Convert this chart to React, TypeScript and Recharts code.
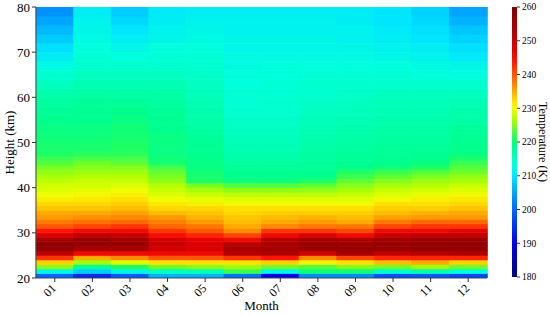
import React from "react";
import { BarChart, Bar, Cell, XAxis, YAxis, Label } from "recharts";

// months along x
const months = ["01", "02", "03", "04", "05", "06", "07", "08", "09", "10", "11", "12"];

// layer edges in km: 1 km layers up to 48 km, 2 km layers above
const layerEdges = [
  20, 21, 22, 23, 24, 25, 26, 27, 28, 29, 30, 31, 32, 33, 34, 35, 36, 37, 38, 39, 40, 41, 42, 43, 44, 45, 46, 47,
  48, 50, 52, 54, 56, 58, 60, 62, 64, 66, 68, 70, 72, 74, 76, 78, 80,
];

// temperature (K) per layer, lowest layer first
const temp01 = [200, 212, 225, 233, 242, 251, 257, 258, 254, 248, 244, 240, 238, 236, 235, 233.5, 232.5, 231, 230, 229, 228.5, 227.5, 226.5, 225.5, 224.5, 223, 222, 221, 220.5, 220, 219.5, 219, 218, 217.5, 216.5, 215, 214, 212.5, 211, 209.5, 208, 206.5, 205, 203.5];
const temp02 = [194, 208, 218, 226, 235, 246, 254, 257, 256, 251, 246, 241, 238.5, 236.5, 235, 233.5, 232.5, 231.5, 230.5, 229.5, 228.5, 228, 227, 226, 225, 224, 222.5, 221.5, 220.5, 220, 219.5, 219, 218.5, 218, 217, 216, 215, 214, 213.5, 213, 212.5, 212, 211.5, 211];
const temp03 = [199, 212, 221, 229, 237, 246, 254, 256, 255, 250, 246, 242, 239, 237, 235.5, 234, 233, 232, 231, 230, 229, 228, 227, 226, 225, 223.5, 222.5, 221.5, 221, 220.5, 220, 219.5, 219, 218, 217, 216, 215, 214, 213, 212, 211, 210, 209, 208];
const temp04 = [206, 215, 224, 232, 240, 246, 249, 250, 249, 245, 242, 239, 237.5, 236, 234, 232.5, 231.5, 230, 229, 228, 227, 225.5, 224.5, 223.5, 222.5, 220.5, 220, 219.5, 219.5, 219.5, 219, 218.5, 218, 217.5, 217, 216, 215, 214, 213.5, 213, 212, 211.5, 211, 210.5];
const temp05 = [206, 216, 225, 232, 240, 246, 248, 248.5, 247, 243, 240, 238, 236, 234.5, 233.5, 232.5, 231, 229.5, 228, 226.5, 224.5, 221, 220.5, 220, 219.5, 219.5, 219, 219, 218.5, 218, 217.5, 217, 216.5, 216, 215.5, 215, 214.5, 214, 213.5, 213, 212.5, 212, 211.5, 211];
const temp06 = [201, 222, 226, 232, 242, 252, 254, 252, 246, 241, 237, 235, 234, 233.5, 232.5, 232, 230.5, 229, 227.5, 225.5, 223, 220, 219, 218.5, 218, 217.5, 217, 216.5, 216, 215.5, 215, 214.5, 214, 213.5, 213.5, 213, 213, 212.5, 212.5, 212, 212, 211.5, 211.5, 211];
const temp07 = [190, 212, 224, 233, 244, 253, 254, 254, 252, 246, 242, 237, 235, 234, 233, 232, 230.5, 229, 227.5, 225.5, 223, 220, 219, 218.5, 218, 217.5, 217, 216.5, 216, 215.5, 215, 214.5, 214, 214, 213.5, 213.5, 213, 213, 212.5, 212, 212, 211.5, 211.5, 211];
const temp08 = [203, 220, 223, 231, 237, 249, 256, 256, 254, 248, 242, 238, 236, 234.5, 233, 232, 230.5, 229, 227.5, 225.5, 223.5, 221, 219, 218.5, 218, 218, 217.5, 217.5, 217, 216.5, 216, 215.5, 215, 214.5, 214, 214, 213.5, 213, 212.5, 212, 212, 211.5, 211.5, 211];
const temp09 = [203, 220, 225, 232, 241, 254, 256, 256, 253, 246, 241, 238, 235, 234, 233, 232, 230.5, 229, 228, 226.5, 225, 223.5, 222, 221, 219, 218.5, 218, 218, 217.5, 217, 216.5, 216, 215.5, 215, 214.5, 214, 213.5, 213, 212.5, 212, 211.5, 211.5, 211, 211];
const temp10 = [198, 214, 224, 234, 243, 251, 256, 256, 255, 250, 246, 241, 238, 235.5, 234, 233, 232, 230.5, 229, 228, 226.5, 225, 223.5, 222, 220, 219, 218.5, 218, 218, 217.5, 217, 216.5, 216, 215.5, 215, 214, 213.5, 213, 212, 211.5, 211, 210.5, 210, 210];
const temp11 = [199, 216, 226, 235, 243, 252, 257, 257, 256, 251, 246, 242, 239, 236, 234.5, 233, 232, 231, 229.5, 228.5, 227, 226, 224.5, 223, 221, 219.5, 219, 218.5, 218, 217.5, 217, 216.5, 216, 215.5, 215, 214, 213, 212.5, 211.5, 211, 210, 209.5, 209, 208.5];
const temp12 = [197, 213, 224, 233, 243, 253, 257, 257, 256, 251, 247, 242, 239, 236, 235, 233.5, 232.5, 231.5, 230.5, 229, 228, 226.5, 225.5, 224, 223, 222, 220.5, 219.5, 219, 218.5, 218, 217, 216.5, 216, 215, 214, 213, 212, 210.5, 209.5, 208.5, 207.5, 206, 205];

const tempByMonth = [temp01, temp02, temp03, temp04, temp05, temp06, temp07, temp08, temp09, temp10, temp11, temp12];

const heightTicks = [20, 30, 40, 50, 60, 70, 80];
const tempTicks = [180, 190, 200, 210, 220, 230, 240, 250, 260];
const tempRange = [180, 260];

// colour scale anchors (K -> rgb)
const colorStops: [number, number[]][] = [
  [180, [0, 0, 128]],
  [190, [0, 0, 235]],
  [200, [0, 100, 255]],
  [205, [0, 165, 255]],
  [210, [0, 230, 255]],
  [213, [0, 255, 220]],
  [216, [0, 255, 180]],
  [219, [0, 255, 140]],
  [221, [30, 255, 100]],
  [224, [110, 255, 40]],
  [227, [180, 255, 0]],
  [230, [240, 255, 0]],
  [232, [255, 225, 0]],
  [235, [255, 170, 0]],
  [238, [255, 120, 0]],
  [241, [255, 70, 0]],
  [244, [255, 20, 0]],
  [248, [220, 0, 0]],
  [253, [175, 0, 0]],
  [260, [128, 0, 0]],
];

const tempColor = (t: number) => {
  if (t <= colorStops[0][0]) return `rgb(${colorStops[0][1].join(",")})`;
  for (let i = 1; i < colorStops.length; i++) {
    const [t1, c1] = colorStops[i];
    if (t <= t1) {
      const [t0, c0] = colorStops[i - 1];
      const f = (t - t0) / (t1 - t0);
      const c = c0.map((v, j) => Math.round(v + (c1[j] - v) * f));
      return `rgb(${c.join(",")})`;
    }
  }
  return `rgb(${colorStops[colorStops.length - 1][1].join(",")})`;
};

const layerKeys = layerEdges.slice(1).map((_, k) => `l${k}`);

const data = months.map((m) => {
  const row: Record<string, any> = { month: m, base: layerEdges[0] };
  layerKeys.forEach((key, k) => {
    row[key] = layerEdges[k + 1] - layerEdges[k];
  });
  return row;
});

const colorbarData = [{ name: "cb", range: tempRange }];

const FONT = "Liberation Serif, Times New Roman, serif";

const MonthTick = (props: any) => {
  const { x, y, payload } = props;
  const ax = x + 2;
  const ay = y + 5;
  return (
    <text
      x={ax}
      y={ay}
      transform={`rotate(-45 ${ax} ${ay})`}
      textAnchor="end"
      fontSize={12}
      fontFamily={FONT}
      fill="#000"
    >
      {payload.value}
    </text>
  );
};

export default function App() {
  return (
    <div style={{ position: "absolute", left: 0, top: 0, width: 550, height: 315, background: "#fff" }}>
      <div style={{ position: "absolute", left: 0, top: 0 }}>
        <BarChart
          width={550}
          height={315}
          data={data}
          margin={{ top: 7, right: 63, bottom: 0, left: 0 }}
          barCategoryGap={0}
          barGap={0}
        >
          <XAxis
            dataKey="month"
            height={37}
            interval={0}
            tickSize={4}
            tick={<MonthTick />}
            axisLine={{ stroke: "#444" }}
            tickLine={{ stroke: "#333" }}
          >
            <Label
              value="Month"
              position="insideBottom"
              offset={5}
              style={{ fontSize: 13, fontFamily: FONT, fill: "#000" }}
            />
          </XAxis>
          <XAxis xAxisId="top" dataKey="month" orientation="top" height={0} tick={false} tickLine={false} axisLine={{ stroke: "#888" }} />
          <YAxis
            type="number"
            domain={[20, 80]}
            allowDataOverflow
            ticks={heightTicks}
            interval={0}
            width={36}
            tickSize={4}
            tick={{ fontSize: 13, fontFamily: FONT, fill: "#000" }}
            axisLine={{ stroke: "#444" }}
            tickLine={{ stroke: "#333" }}
          >
            <Label
              value="Height (km)"
              angle={-90}
              position="center"
              dx={-9}
              style={{ fontSize: 13, fontFamily: FONT, fill: "#000", textAnchor: "middle" }}
            />
          </YAxis>
          <YAxis yAxisId="right" orientation="right" type="number" domain={[20, 80]} width={0} tick={false} tickLine={false} axisLine={{ stroke: "#888" }} />
          <Bar dataKey="base" stackId="h" fill="none" isAnimationActive={false} />
          {layerKeys.map((key, k) => (
            <Bar key={key} dataKey={key} stackId="h" isAnimationActive={false}>
              {months.map((m, i) => {
                const c = tempColor(tempByMonth[i][k]);
                return <Cell key={m} fill={c} stroke={c} strokeWidth={0.7} />;
              })}
            </Bar>
          ))}
        </BarChart>
      </div>
      <div style={{ position: "absolute", left: 500, top: 0 }}>
        <BarChart
          width={50}
          height={315}
          data={colorbarData}
          margin={{ top: 7, right: 0, bottom: 38, left: 12 }}
          barCategoryGap={0}
        >
          <defs>
            <linearGradient id="tempGradient" x1="0" y1="1" x2="0" y2="0">
              {colorStops.map(([t, c]) => (
                <stop
                  key={t}
                  offset={(t - tempRange[0]) / (tempRange[1] - tempRange[0])}
                  stopColor={`rgb(${c.join(",")})`}
                />
              ))}
            </linearGradient>
          </defs>
          <XAxis dataKey="name" hide />
          <YAxis
            orientation="right"
            type="number"
            domain={tempRange}
            ticks={tempTicks}
            interval={0}
            width={33}
            tickSize={3}
            axisLine={false}
            tick={{ fontSize: 9.5, fontFamily: FONT, fill: "#000" }}
            tickLine={{ stroke: "#333" }}
          >
            <Label
              value="Temperature (K)"
              angle={90}
              position="center"
              dx={10}
              style={{ fontSize: 12, fontFamily: FONT, fill: "#000", textAnchor: "middle" }}
            />
          </YAxis>
          <Bar dataKey="range" fill="url(#tempGradient)" isAnimationActive={false} />
        </BarChart>
      </div>
    </div>
  );
}
